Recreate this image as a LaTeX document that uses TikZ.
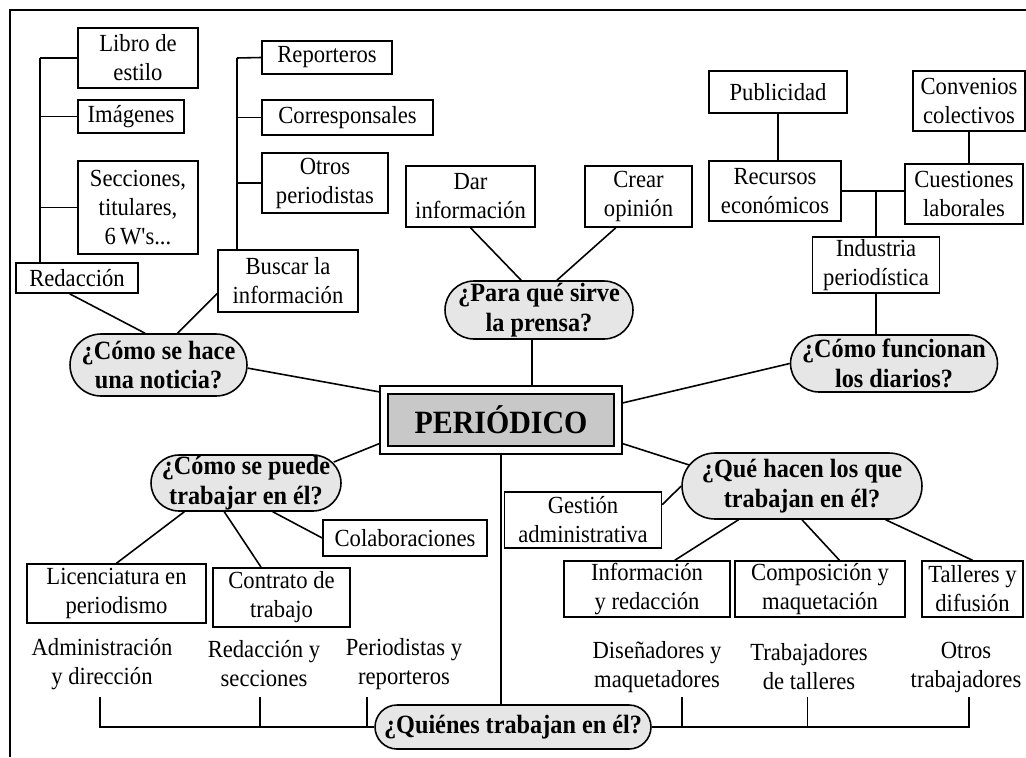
\documentclass[tikz,border=0pt]{standalone}
\usepackage{fontspec}
\setmainfont{Liberation Serif}[Ligatures=TeXOff,FakeStretch=0.92]
\usepackage{tikz}
\usetikzlibrary{calc}
\definecolor{ovalgray}{RGB}{230,230,230}
\definecolor{pergray}{RGB}{200,200,200}

\begin{document}
\begin{tikzpicture}[
    x=0.02cm, y=-0.02cm,
    font=\fontsize{14}{16.5}\selectfont,
    line width=0.9pt,
    box/.style={draw,fill=white,inner sep=0pt,align=center,minimum width=#1},
    oval/.style 2 args={draw,fill=ovalgray,rounded corners=#2/2,inner sep=0pt,
                 align=center,font=\fontsize{15}{17}\selectfont\bfseries,
                 minimum width=#1,minimum height=#2},
    txt/.style={align=center,inner sep=0pt},
]
\useasboundingbox (0,0) rectangle (1026,757);

% frame (left and top only)
\draw (10,757) -- (10,10) -- (1026,10);

% central node
\node[draw,double,double distance=3.6pt,fill=pergray,minimum width=4.69cm,
      minimum height=1.2cm,outer sep=2.7pt,
      font=\fontsize{18.5}{21}\selectfont\bfseries] (per) at (501,420) {PERIÓDICO};

% questions
\node[oval={3.54cm}{1.24cm}] (nota)  at (158.5,365) {¿Cómo se hace\\una noticia?};
\node[oval={3.76cm}{1.16cm}] (sirve) at (539,310)   {¿Para qué sirve\\la prensa?};
\node[oval={4.14cm}{1.14cm}] (func)  at (894,363.5) {¿Cómo funcionan\\los diarios?};
\node[oval={3.8cm}{1.12cm}]  (puede) at (246,483)   {¿Cómo se puede\\trabajar en él?};
\node[oval={4.8cm}{1.32cm}]  (hacen) at (802,486)   {¿Qué hacen los que\\trabajan en él?};
\node[oval={5.52cm}{0.88cm}] (quien) at (513,727)   {¿Quiénes trabajan en él?};

% how a news item is made
\node[box=2.4cm,minimum height=1.2cm]   (libro)   at (138,58)    {Libro de\\estilo};
\node[box=2.12cm,minimum height=0.66cm] (imag)    at (131,116.5) {Imágenes};
\node[box=2.4cm,minimum height=1.86cm]  (secc)    at (138,207.5) {Secciones,\\titulares,\\6\,W's...};
\node[box=2.44cm,minimum height=0.6cm]  (redac)   at (77,278)    {Redacción};
\node[box=2.6cm,minimum height=0.66cm]  (report)  at (327,57.5)  {Reporteros};
\node[box=3.42cm,minimum height=0.7cm]  (corresp) at (347.5,117.5) {Corresponsales};
\node[box=2.52cm,minimum height=1.2cm]  (otros)   at (325,183)   {Otros\\periodistas};
\node[box=2.8cm,minimum height=1.24cm]  (busca)   at (288,281)   {Buscar la\\información};

\coordinate (redtop) at (40,58);
\coordinate (bustop) at (237,58);
\draw (redtop) -- (redtop |- redac.north);
\draw (redtop) -- (libro.west);
\draw (redtop |- imag.west) -- (imag.west);
\draw (redtop |- secc.west) -- (secc.west);
\draw (bustop) -- (bustop |- busca.north);
\draw (bustop) -- (report.west);
\draw (bustop |- corresp.west) -- (corresp.west);
\draw (bustop |- otros.west) -- (otros.west);
\draw (redac.245) -- (nota.113);
\draw (busca.190) -- (nota.59);
\draw (nota.-2) -- (per.167);

% what the press is for
\node[box=2.58cm,minimum height=1.22cm] (dar)   at (470.5,196.5) {Dar\\información};
\node[box=2.14cm,minimum height=1.22cm] (crear) at (638.5,196.5) {Crear\\opinión};
\draw (dar.south) -- (sirve.121);
\draw (crear.234) -- (sirve.59);
\draw ([xshift=-0.14cm]sirve.south) -- ([xshift=-0.14cm]sirve.south |- per.north);

% how newspapers work
\node[box=2.76cm,minimum height=0.84cm] (publi)  at (778,92)  {Publicidad};
\node[box=2.64cm,minimum height=1.2cm]  (recur)  at (775,191) {Recursos\\económicos};
\node[box=2.24cm,minimum height=1.2cm]  (conven) at (969,101) {Convenios\\colectivos};
\node[box=2.36cm,minimum height=1.2cm]  (cuest)  at (964,194) {Cuestiones\\laborales};
\node[box=2.54cm,minimum height=1.12cm] (indus)  at (876,265) {Industria\\periodística};
\draw (publi.south) -- (publi.south |- recur.north);
\draw (conven.south) -- (conven.south |- cuest.north);
\draw (recur.east) -- (recur.east -| cuest.west);
\draw (indus.north) -- (indus.north |- recur.east);
\draw (indus.south) -- (indus.south |- func.north);
\draw (per.8) -- (func.west);

% how one can work there
\node[box=3.28cm,minimum height=0.72cm] (colab) at (405,538)     {Colaboraciones};
\node[box=3.58cm,minimum height=1.18cm] (licen) at (116.5,593.5) {Licenciatura en\\periodismo};
\node[box=2.74cm,minimum height=1.18cm] (contr) at (281.5,597.5) {Contrato de\\trabajo};
\draw (per.191) -- ($(puede.east)+(-8,-21)$);
\draw (puede.205) -- (licen.north);
\draw (puede.233) -- (contr.124);
\draw (puede.-47) -- (colab.west);

% what they do
\node[box=3.14cm,minimum height=1.12cm] (gest)   at (583,520)   {Gestión\\administrativa};
\node[box=3.32cm,minimum height=1.12cm] (infor)  at (647,589)   {Información\\y redacción};
\node[box=3.4cm,minimum height=1.12cm]  (compo)  at (820,589)   {Composición y\\maquetación};
\node[box=2.02cm,minimum height=1.12cm] (taller) at (972.5,589) {Talleres y\\difusión};
\draw (per.-11) -- ($(hacen.west)+(8,-21)$);
\draw (gest.11) -- (hacen.west);
\draw (hacen.208) -- (infor.46);
\draw (hacen.south) -- (compo.56);
\draw (hacen.-22) -- (taller.north);

% who works there
\node[txt] (admin)  at (102,664) {Administración\\y dirección};
\node[txt] (redsec) at (264,664) {Redacción y\\secciones};
\node[txt] (perrep) at (404,664) {Periodistas y\\reporteros};
\node[txt] (disen)  at (657,667) {Diseñadores y\\maquetadores};
\node[txt] (trabt)  at (809,667) {Trabajadores\\de talleres};
\node[txt] (otrost) at (966,667) {Otros\\trabajadores};
\draw (per.south) -- (per.south |- quien.north);
\coordinate (q1) at (100,697);
\coordinate (q2) at (260,697);
\coordinate (q3) at (367,697);
\coordinate (q4) at (682,697);
\coordinate (q5) at (807.5,697);
\coordinate (q6) at (969,697);
\draw (q1) |- (quien.west);
\draw (q2) -- (q2 |- quien.west);
\draw (q3) -- (q3 |- quien.west);
\draw (q6) |- (quien.east);
\draw (q4) -- (q4 |- quien.east);
\draw (q5) -- (q5 |- quien.east);

\end{tikzpicture}
\end{document}
